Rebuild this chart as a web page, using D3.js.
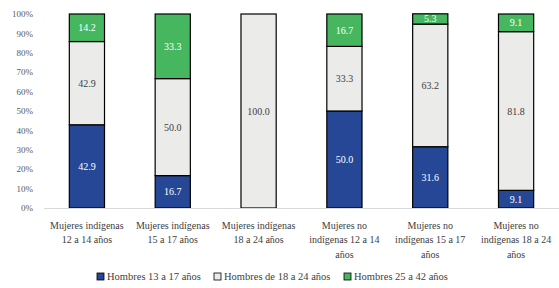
<!DOCTYPE html>
<html lang="es">
<head>
  <meta charset="UTF-8">
  <script src="https://cdn.jsdelivr.net/npm/d3@7"></script>
  <title>Chart</title>
  <style>
    body { margin: 0; background: #fff; }
    * { font-family: 'Liberation Serif', serif; }
  </style>
</head>
<body>
  <svg id="chart" width="559" height="288"></svg>
  <script>
    const categories = [
      "Mujeres indígenas 12 a 14 años",
      "Mujeres indígenas 15 a 17 años",
      "Mujeres indígenas 18 a 24 años",
      "Mujeres no indígenas 12 a 14 años",
      "Mujeres no indígenas 15 a 17 años",
      "Mujeres no indígenas 18 a 24 años"
    ];
    const categoryLines = [
      ["Mujeres indígenas", "12 a 14 años"],
      ["Mujeres indígenas", "15 a 17 años"],
      ["Mujeres indígenas", "18 a 24 años"],
      ["Mujeres no", "indígenas 12 a 14", "años"],
      ["Mujeres no", "indígenas 15 a 17", "años"],
      ["Mujeres no", "indígenas 18 a 24", "años"]
    ];
    const seriesNames = ["Hombres 13 a 17 años", "Hombres de 18 a 24 años", "Hombres 25 a 42 años"];
    const hombres13a17 = [42.9, 16.7, 0, 50.0, 31.6, 9.1];
    const hombres18a24 = [42.9, 50.0, 100.0, 33.3, 63.2, 81.8];
    const hombres25a42 = [14.2, 33.3, 0, 16.7, 5.3, 9.1];
    const yTicks = [0, 10, 20, 30, 40, 50, 60, 70, 80, 90, 100];

    const colors = ["#264796", "#ebebea", "#46b75e"];
    const labelColors = ["#fff", "#404040", "#fff"];

    const svg = d3.select("#chart");
    const x = d3.scaleBand().domain(categories).range([44, 559]).paddingInner(0.59).paddingOuter(0.295);
    const y = d3.scaleLinear().domain([0, 100]).range([208, 14]);

    // y axis labels
    svg.append("g").selectAll("text").data(yTicks).enter().append("text")
      .attr("x", 33).attr("y", d => y(d)).attr("dy", "0.35em")
      .attr("text-anchor", "end").style("font-size", "9px").style("fill", "#595959")
      .text(d => d + "%");

    const rows = categories.map((c, i) => ({
      cat: c, s0: hombres13a17[i], s1: hombres18a24[i], s2: hombres25a42[i]
    }));
    const stack = d3.stack().keys(["s0", "s1", "s2"]);
    const layers = stack(rows);

    const g = svg.append("g");
    layers.forEach((layer, li) => {
      const segs = layer.filter(d => d[1] - d[0] > 0);
      g.selectAll("rect.l" + li).data(segs).enter().append("rect")
        .attr("class", "l" + li)
        .attr("x", d => x(d.data.cat))
        .attr("width", x.bandwidth())
        .attr("y", d => y(d[1]))
        .attr("height", d => y(d[0]) - y(d[1]))
        .style("fill", colors[li])
        .style("stroke", "#000").style("stroke-width", 1.2);
      g.selectAll("text.l" + li).data(segs).enter().append("text")
        .attr("class", "l" + li)
        .attr("x", d => x(d.data.cat) + x.bandwidth() / 2)
        .attr("y", d => y((d[0] + d[1]) / 2))
        .attr("dy", "0.35em").attr("text-anchor", "middle")
        .style("font-size", "10px").style("fill", labelColors[li])
        .text(d => (d[1] - d[0]).toFixed(1));
    });

    // baseline
    svg.append("line").attr("x1", 44).attr("x2", 559).attr("y1", y(0) + 0.5).attr("y2", y(0) + 0.5)
      .style("stroke", "#d9d9d9").style("stroke-width", 1);

    // x labels
    const xl = svg.append("g").selectAll("text").data(categories).enter().append("text")
      .attr("x", d => x(d) + x.bandwidth() / 2).attr("y", 228.5)
      .attr("text-anchor", "middle").style("font-size", "10px").style("fill", "#404040");
    xl.each(function (d, i) {
      d3.select(this).selectAll("tspan").data(categoryLines[i]).enter().append("tspan")
        .attr("x", x(d) + x.bandwidth() / 2)
        .attr("dy", (t, j) => j === 0 ? 0 : 14.5)
        .text(t => t);
    });

    // legend
    const legendX = [97, 214, 344];
    const lg = svg.append("g").selectAll("g").data(seriesNames).enter().append("g")
      .attr("transform", (d, i) => `translate(${legendX[i]},276.5)`);
    lg.append("rect").attr("x", 0).attr("y", -3.5).attr("width", 7).attr("height", 7)
      .style("fill", (d, i) => colors[i]).style("stroke", "#000").style("stroke-width", 0.8);
    lg.append("text").attr("x", 10).attr("y", 0).attr("dy", "0.35em")
      .style("font-size", "10.5px").style("fill", "#404040").text(d => d);
  </script>
</body>
</html>
